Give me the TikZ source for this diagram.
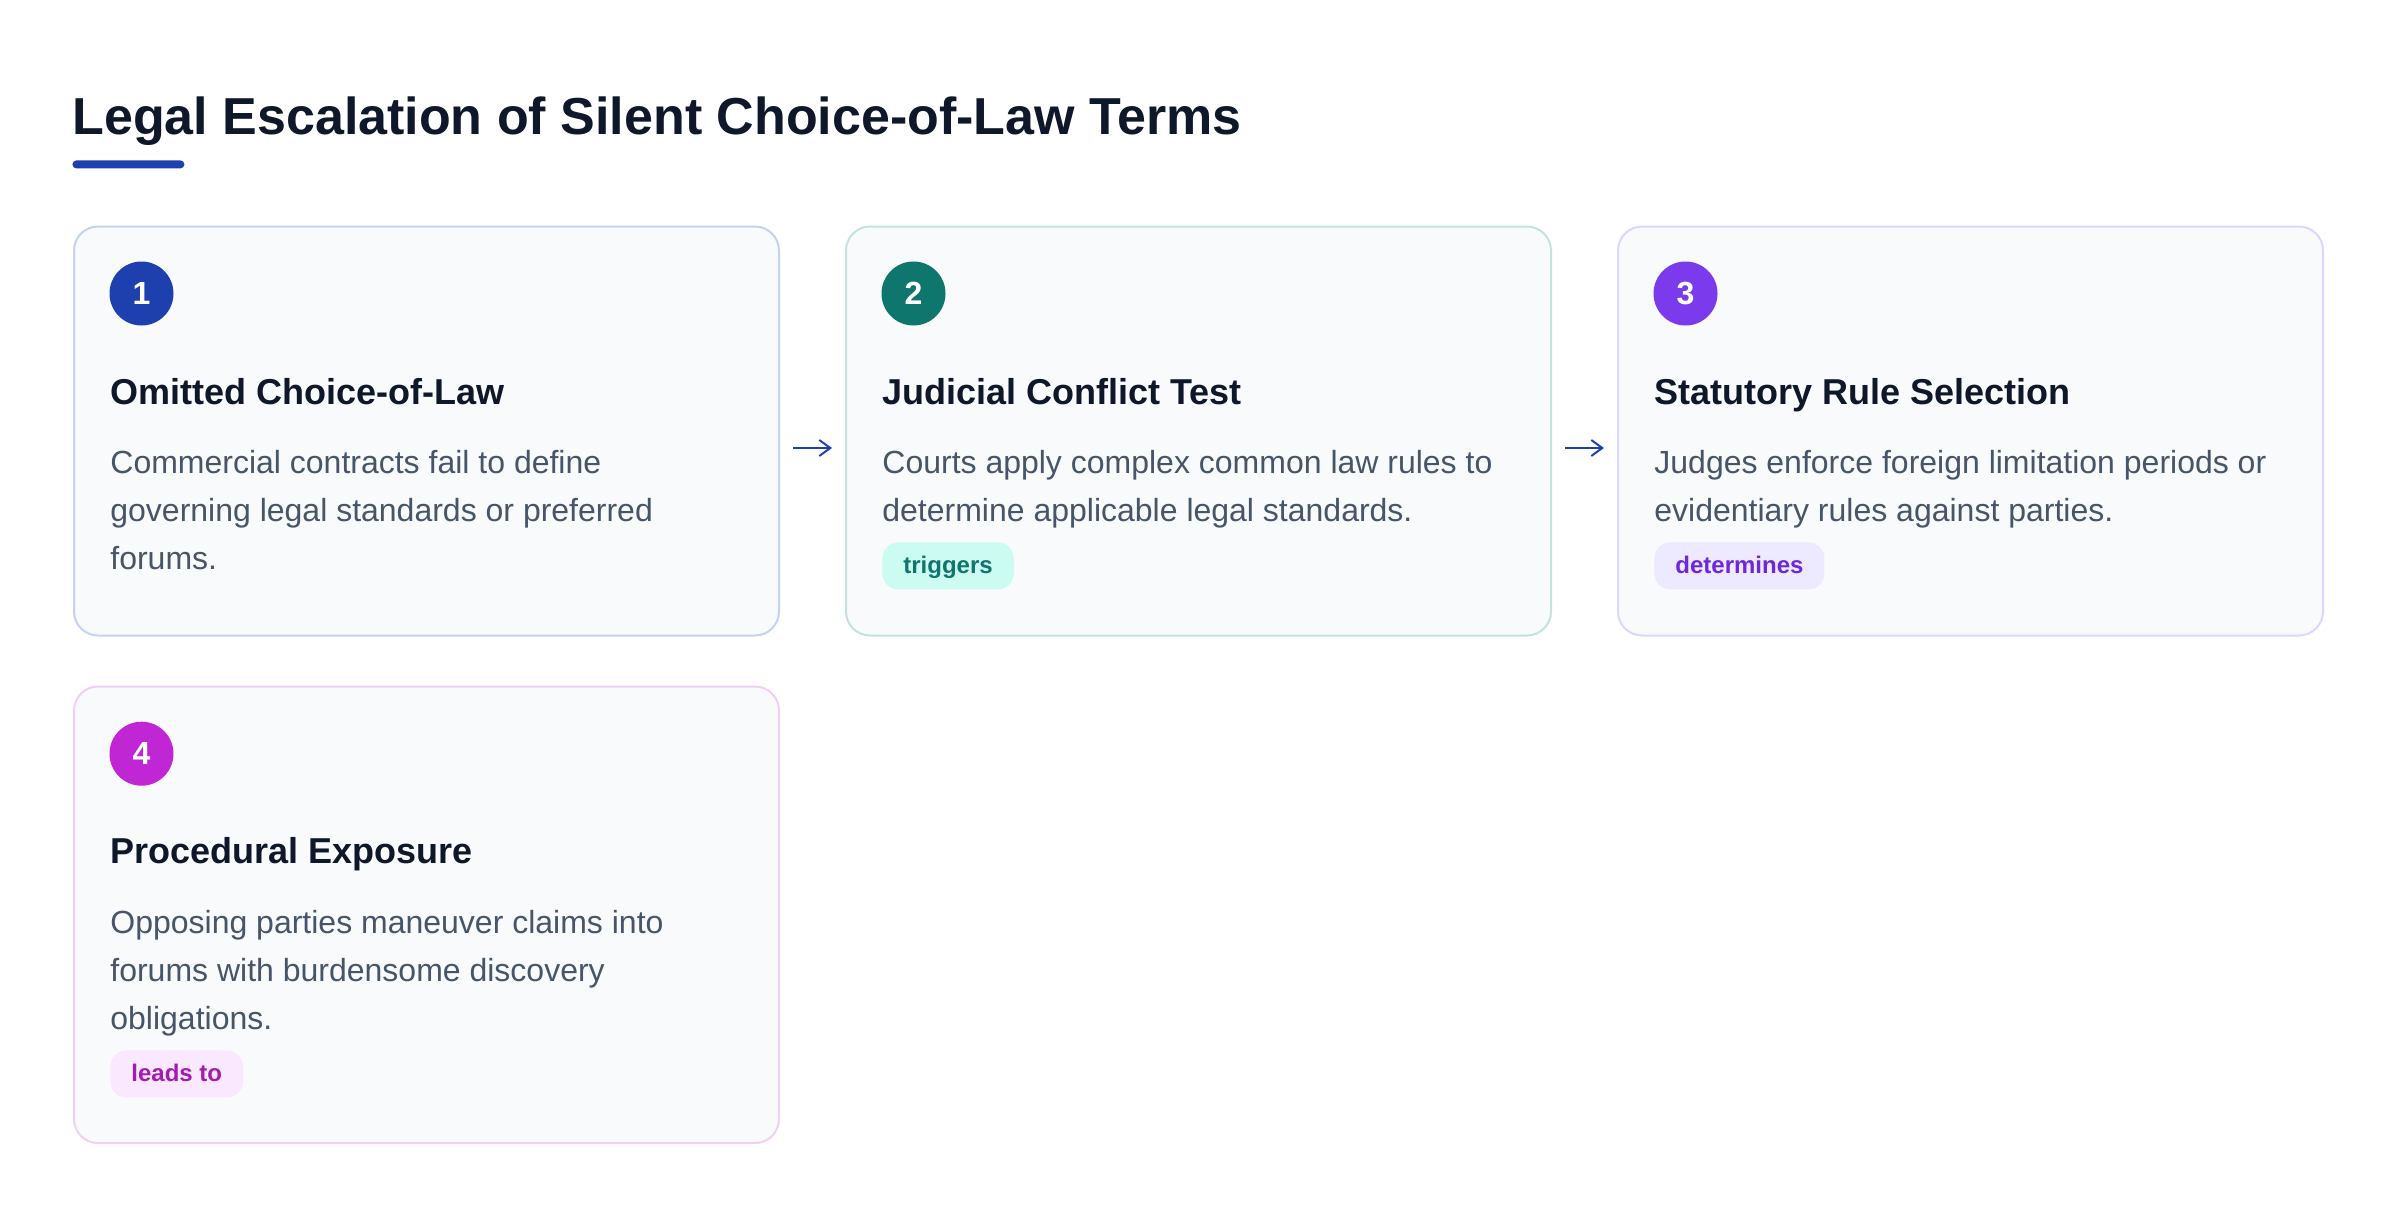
\documentclass[tikz,border=0pt]{standalone}
\usepackage{fontspec}
\setmainfont{Liberation Sans}
\usetikzlibrary{arrows.meta,calc}
\definecolor{ink}{HTML}{0F172A}
\definecolor{bodyc}{HTML}{475569}
\definecolor{cardbg}{HTML}{F8FAFC}
\definecolor{blueA}{HTML}{1E40AF}
\definecolor{borderA}{HTML}{C7D2F0}
\definecolor{tealA}{HTML}{0F766E}
\definecolor{borderB}{HTML}{C4E2DE}
\definecolor{violetA}{HTML}{7C3AED}
\definecolor{borderC}{HTML}{DDD6FE}
\definecolor{fuchA}{HTML}{C026D3}
\definecolor{borderD}{HTML}{F0D0F5}
\definecolor{pillBbg}{HTML}{CCFBF1}
\definecolor{pillCbg}{HTML}{EDE9FE}
\definecolor{pillCtx}{HTML}{6D28D9}
\definecolor{pillDbg}{HTML}{FAE8FF}
\definecolor{pillDtx}{HTML}{A21CAF}
\begin{document}
\begin{tikzpicture}[x=0.5pt,y=-0.5pt,
  card/.style={draw=#1, line width=1pt, fill=cardbg, rounded corners=12pt,
    minimum width=352.5pt, anchor=north west, inner sep=0pt},
  badge/.style={circle, fill=#1, minimum size=32pt, inner sep=0pt, text=white,
    font=\fontsize{16}{16}\selectfont\bfseries},
  heading/.style={anchor=base west, inner sep=0pt, text=ink,
    font=\fontsize{18}{22}\selectfont\bfseries},
  bodyline/.style={anchor=base west, inner sep=0pt, text=bodyc,
    font=\fontsize{16}{24}\selectfont},
  pill/.style={fill=#1, rounded corners=8pt, anchor=north west, inner xsep=10.5pt,
    inner ysep=0pt, minimum height=23.5pt, text height=9.5pt, text depth=2pt,
    font=\fontsize{12}{14}\selectfont\bfseries},
  flow/.style={draw=blueA, line width=1pt, -{Straight Barb[length=5.5pt,width=8pt]}}
]
\useasboundingbox (0,0) rectangle (2400,1216);
\fill[white] (0,0) rectangle (2400,1216);

% title
\node[anchor=base west, inner sep=0pt, text=ink, font=\fontsize{26}{30}\selectfont\bfseries]
  (title) at (72,134) {Legal Escalation of Silent Choice-of-Law Terms};
\node[fill=blueA, rounded corners=2pt, minimum width=56pt, minimum height=4pt,
  inner sep=0pt, anchor=north west] (bar) at (72,160) {};

% cards
\node[card=borderA, minimum height=204.5pt] (c1) at (73,225.5) {};
\node[card=borderB, minimum height=204.5pt] (c2) at (845,225.5) {};
\node[card=borderC, minimum height=204.5pt] (c3) at (1617,225.5) {};
\node[card=borderD, minimum height=228.3pt] (c4) at (73,685.5) {};

% card 1
\node[badge=blueA] (n1) at (141.5,293.5) {1};
\node[heading] (h1) at (110,404) {Omitted Choice-of-Law};
\node[bodyline] (b1a) at (110,473) {Commercial contracts fail to define};
\node[bodyline] (b1b) at (110,521) {governing legal standards or preferred};
\node[bodyline] (b1c) at (110,569) {forums.};

% card 2
\node[badge=tealA] (n2) at (913.5,293.5) {2};
\node[heading] (h2) at (882,404) {Judicial Conflict Test};
\node[bodyline] (b2a) at (882,473) {Courts apply complex common law rules to};
\node[bodyline] (b2b) at (882,521) {determine applicable legal standards.};
\node[pill=pillBbg, text=tealA] (p2) at (882,542) {triggers};

% card 3
\node[badge=violetA] (n3) at (1685.5,293.5) {3};
\node[heading] (h3) at (1654,404) {Statutory Rule Selection};
\node[bodyline] (b3a) at (1654,473) {Judges enforce foreign limitation periods or};
\node[bodyline] (b3b) at (1654,521) {evidentiary rules against parties.};
\node[pill=pillCbg, text=pillCtx] (p3) at (1654,542) {determines};

% card 4
\node[badge=fuchA] (n4) at (141.5,753.7) {4};
\node[heading] (h4) at (110,863) {Procedural Exposure};
\node[bodyline] (b4a) at (110,933) {Opposing parties maneuver claims into};
\node[bodyline] (b4b) at (110,981) {forums with burdensome discovery};
\node[bodyline] (b4c) at (110,1029) {obligations.};
\node[pill=pillDbg, text=pillDtx] (p4) at (110,1050) {leads to};

% connectors
\draw[flow] ([xshift=6.5pt,yshift=-8.5pt]c1.east) -- ([xshift=-6.5pt,yshift=-8.5pt]c2.west);
\draw[flow] ([xshift=6.5pt,yshift=-8.5pt]c2.east) -- ([xshift=-6.5pt,yshift=-8.5pt]c3.west);
\end{tikzpicture}
\end{document}
